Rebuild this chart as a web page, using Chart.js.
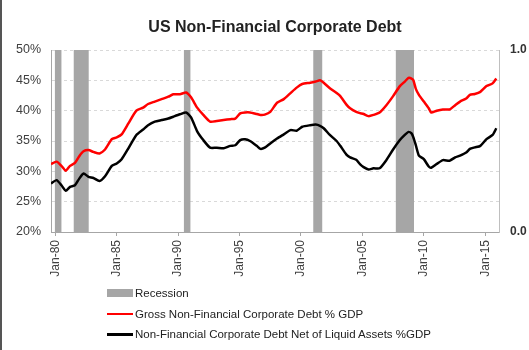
<!DOCTYPE html>
<html>
<head>
<meta charset="utf-8">
<script src="https://cdn.jsdelivr.net/npm/chart.js@4/dist/chart.umd.min.js"></script>
<style>
  body { margin: 0; background: #fff; }
  #wrap { position: relative; width: 529px; height: 350px; overflow: hidden; }
  #edge { position: absolute; left: 0; top: 0; width: 2px; height: 350px; background: #555; }
  #legend { position: absolute; left: 107px; top: 283px; font: 11.5px "Liberation Sans", Arial, sans-serif; color: #222; }
  .row { height: 20.5px; display: flex; align-items: center; }
  .sw { width: 26px; margin-right: 2px; }
</style>
</head>
<body>
<div id="wrap">
  <canvas id="chart" width="529" height="350"></canvas>
  <div id="edge"></div>
  <div id="legend"></div>
</div>
<script>
// quarter-ish dates (decimal years)
const dates = [
  1979.65, 1980.1, 1980.5, 1980.85, 1981.2, 1981.6, 1981.95, 1982.3, 1982.7, 1983.1,
  1983.6, 1984.05, 1984.6, 1985.0, 1985.4, 1985.95, 1986.6, 1987.15, 1987.55, 1988.1,
  1988.65, 1989.2, 1989.6, 1990.15, 1990.65, 1991.05, 1991.55, 1992.05, 1992.6, 1993.15,
  1993.7, 1994.25, 1994.65, 1995.05, 1995.45, 1995.85, 1996.4, 1996.7, 1997.05, 1997.5,
  1998.05, 1998.6, 1999.15, 1999.65, 2000.1, 2000.75, 2001.2, 2001.55, 2001.85, 2002.35,
  2002.9, 2003.2, 2003.7, 2004.0, 2004.5, 2004.8, 2005.1, 2005.5, 2005.9, 2006.4,
  2006.95, 2007.5, 2008.05, 2008.45, 2008.75, 2009.0, 2009.15, 2009.35, 2009.6, 2010.0,
  2010.4, 2010.6, 2011.05, 2011.55, 2012.1, 2012.55, 2012.95, 2013.45, 2013.75, 2014.15,
  2014.6, 2015.1, 2015.6, 2015.9
];
const grossDebt = [
  31.2, 31.6, 30.9, 30.1, 30.9, 31.4, 32.5, 33.3, 33.5, 33.2,
  32.95, 33.6, 35.3, 35.6, 36.1, 37.9, 40.0, 40.5, 41.1, 41.5,
  41.9, 42.3, 42.7, 42.7, 43.0, 42.2, 40.5, 39.3, 38.2, 38.3,
  38.45, 38.6, 38.7, 39.55, 39.7, 39.7, 39.45, 39.3, 39.35, 39.8,
  41.3, 41.9, 42.9, 43.8, 44.4, 44.6, 44.8, 45.0, 44.6, 43.7,
  42.9, 42.4, 41.0, 40.4, 39.8, 39.6, 39.45, 39.1, 39.3, 39.7,
  40.9, 42.4, 44.05, 44.8, 45.4, 45.3, 45.0, 43.6, 42.6, 41.5,
  40.4, 39.7, 40.0, 40.2, 40.2, 40.9, 41.5, 42.0, 42.6, 42.75,
  43.1, 44.05, 44.5, 45.3
];
const netDebt = [
  28.0, 28.55, 27.7, 26.8, 27.45, 27.7, 28.8, 29.65, 29.1, 28.9,
  28.4, 29.2, 30.9, 31.3, 32.0, 33.8, 36.0, 36.9, 37.6, 38.2,
  38.45, 38.7, 39.0, 39.4, 39.7, 38.9, 36.6, 35.15, 33.9, 33.9,
  33.8, 34.2, 34.3, 35.15, 35.3, 35.0, 34.2, 33.7, 33.9, 34.6,
  35.4, 36.1, 36.8, 36.7, 37.35, 37.6, 37.7, 37.5, 37.1, 36.0,
  35.0, 34.2, 32.75, 32.3, 31.9, 31.2, 30.7, 30.3, 30.5, 30.5,
  31.85, 33.6, 35.15, 36.0, 36.5, 36.25, 35.6, 34.3, 32.6, 32.0,
  30.8, 30.6, 31.2, 31.85, 31.75, 32.3, 32.6, 33.1, 33.7, 33.95,
  34.2, 35.3, 36.0, 37.1
];
const recessionStart = [1979.95, 1981.5, 1990.47, 2001.0, 2007.72];
const recessionEnd = [1980.5, 1982.72, 1991.0, 2001.73, 2009.2];
const xTicks = [1980, 1985, 1990, 1995, 2000, 2005, 2010, 2015];
const xTickLabels = ["Jan-80", "Jan-85", "Jan-90", "Jan-95", "Jan-00", "Jan-05", "Jan-10", "Jan-15"];
const seriesNames = ["Recession", "Gross Non-Financial Corporate Debt % GDP", "Non-Financial Corporate Debt Net of Liquid Assets %GDP"];
const seriesColors = ["#a6a6a6", "#ff0000", "#000000"];

const font = "'Liberation Sans', Arial, sans-serif";

const recessionPts = [];
recessionStart.forEach((s, i) => {
  recessionPts.push({ x: s, y: 0 }, { x: s, y: 1 }, { x: recessionEnd[i], y: 1 }, { x: recessionEnd[i], y: 0 });
});

new Chart(document.getElementById("chart"), {
  type: "line",
  data: {
    datasets: [
      {
        label: seriesNames[1],
        data: dates.map((d, i) => ({ x: d, y: grossDebt[i] })),
        borderColor: seriesColors[1], borderWidth: 2.5, pointRadius: 0, tension: 0.2, yAxisID: "y"
      },
      {
        label: seriesNames[2],
        data: dates.map((d, i) => ({ x: d, y: netDebt[i] })),
        borderColor: seriesColors[2], borderWidth: 2.5, pointRadius: 0, tension: 0.2, yAxisID: "y"
      },
      {
        label: seriesNames[0],
        data: recessionPts,
        borderWidth: 0, pointRadius: 0, tension: 0,
        backgroundColor: seriesColors[0], fill: "origin", yAxisID: "y2"
      }
    ]
  },
  options: {
    responsive: false,
    animation: false,
    layout: { padding: 0 },
    plugins: {
      legend: { display: false },
      tooltip: { enabled: false },
      title: {
        display: true,
        fullSize: false,
        text: "US Non-Financial Corporate Debt",
        color: "#222",
        font: { family: font, size: 16, weight: "bold" },
        padding: { top: 18, bottom: 12.8 }
      }
    },
    scales: {
      x: {
        type: "linear",
        min: 1979.65,
        max: 2016.12,
        afterBuildTicks: s => { s.ticks = xTicks.map(v => ({ value: v })); },
        afterFit: s => { s.height = 118; },
        ticks: {
          minRotation: 90, maxRotation: 90, padding: 4,
          color: "#404040", font: { family: font, size: 12 },
          callback: v => xTickLabels[xTicks.indexOf(v)]
        },
        grid: { drawOnChartArea: false, tickLength: 4, color: "#a6a6a6" },
        border: { color: "#a6a6a6" }
      },
      y: {
        position: "left",
        min: 20, max: 50,
        afterFit: s => { s.width = 51; },
        ticks: {
          stepSize: 5, padding: 10,
          color: "#404040", font: { family: font, size: 12.5 },
          callback: v => v + "%"
        },
        grid: { color: c => c.tick.value === 20 ? "rgba(0,0,0,0)" : "#d9d9d9", drawTicks: false },
        border: { color: "#a6a6a6", dash: [3, 3] }
      },
      y2: {
        position: "right",
        min: 0, max: 1,
        afterFit: s => { s.width = 30; },
        afterBuildTicks: s => { s.ticks = [{ value: 0 }, { value: 1 }]; },
        ticks: {
          padding: 11,
          color: "#333", font: { family: font, size: 12, weight: "bold" },
          callback: v => v.toFixed(1)
        },
        grid: { drawOnChartArea: false, drawTicks: false },
        border: { color: "#bfbfbf" }
      }
    }
  }
});

// legend below the chart, one entry per row
const legend = document.getElementById("legend");
seriesNames.forEach((name, i) => {
  const row = document.createElement("div");
  row.className = "row";
  const sw = document.createElement("span");
  sw.className = "sw";
  sw.style.background = seriesColors[i];
  sw.style.height = i === 0 ? "8px" : "2.5px";
  row.appendChild(sw);
  row.appendChild(document.createTextNode(name));
  legend.appendChild(row);
});
</script>
</body>
</html>
